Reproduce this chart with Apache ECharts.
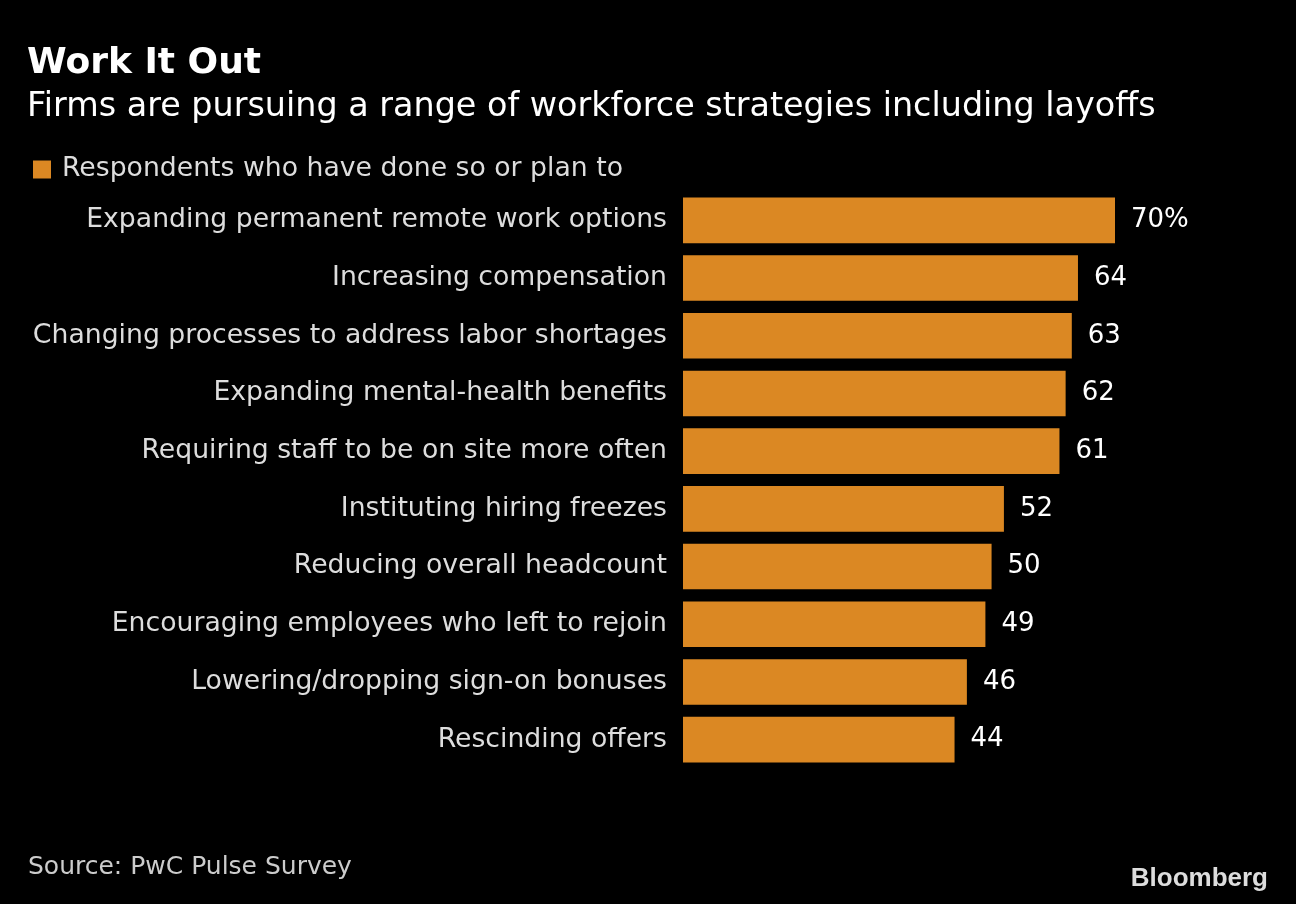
<!DOCTYPE html>
<html><head><meta charset="utf-8">
<script src="https://cdn.jsdelivr.net/npm/echarts@6/dist/echarts.min.js"></script>
<style>html,body{margin:0;padding:0;background:#000;}#c{width:1296px;height:904px;}</style>
</head><body><div id="c"></div>
<script>
const categories = [
  "Expanding permanent remote work options",
  "Increasing compensation",
  "Changing processes to address labor shortages",
  "Expanding mental-health benefits",
  "Requiring staff to be on site more often",
  "Instituting hiring freezes",
  "Reducing overall headcount",
  "Encouraging employees who left to rejoin",
  "Lowering/dropping sign-on bonuses",
  "Rescinding offers"
];
const values = [70, 64, 63, 62, 61, 52, 50, 49, 46, 44];
const seriesName = "Respondents who have done so or plan to";

const chart = echarts.init(document.getElementById('c'));
const font = "DejaVu Sans";
chart.setOption({
  backgroundColor: '#000',
  animation: false,
  textStyle: {fontFamily: font},
  title: [
    {text: 'Work It Out', left: 27, top: 46, padding: 0, textStyle: {color: '#fff', fontSize: 36, fontWeight: 'bold', fontFamily: font}},
    {text: 'Firms are pursuing a range of workforce strategies including layoffs', left: 27, top: 91, padding: 0, textStyle: {color: '#fff', fontSize: 33.4, fontWeight: 'normal', fontFamily: font}},
    {text: 'Source: PwC Pulse Survey', left: 28, top: 855, padding: 0, textStyle: {color: '#ccc', fontSize: 25, fontWeight: 'normal', fontFamily: font}},
    {text: 'Bloomberg', right: 28, top: 866, padding: 0, textStyle: {color: '#ddd', fontSize: 26, fontWeight: 'bold', fontFamily: 'Liberation Sans'}}
  ],
  legend: {
    left: 33, top: 156, padding: 0, itemWidth: 18, itemHeight: 18, itemGap: 10,
    icon: 'rect',
    textStyle: {color: '#ddd', fontSize: 26.7, fontFamily: font, padding: [0, 0, 0, 6]},
    data: [seriesName]
  },
  grid: {left: 683, right: 181, top: 191.5, height: 577, containLabel: false},
  xAxis: {type: 'value', min: 0, max: 70, show: false},
  yAxis: {
    type: 'category', data: categories, inverse: true,
    axisLine: {show: false}, axisTick: {show: false},
    axisLabel: {color: '#ddd', fontSize: 26.7, fontFamily: font, margin: 16}
  },
  series: [{
    name: seriesName, type: 'bar', data: values,
    barCategoryGap: '21%',
    itemStyle: {color: '#DB8823'},
    label: {
      show: true, position: 'right', distance: 16,
      color: '#fff', fontSize: 26, fontFamily: font,
      formatter: p => p.dataIndex === 0 ? p.value + '%' : String(p.value)
    }
  }]
});
</script></body></html>
